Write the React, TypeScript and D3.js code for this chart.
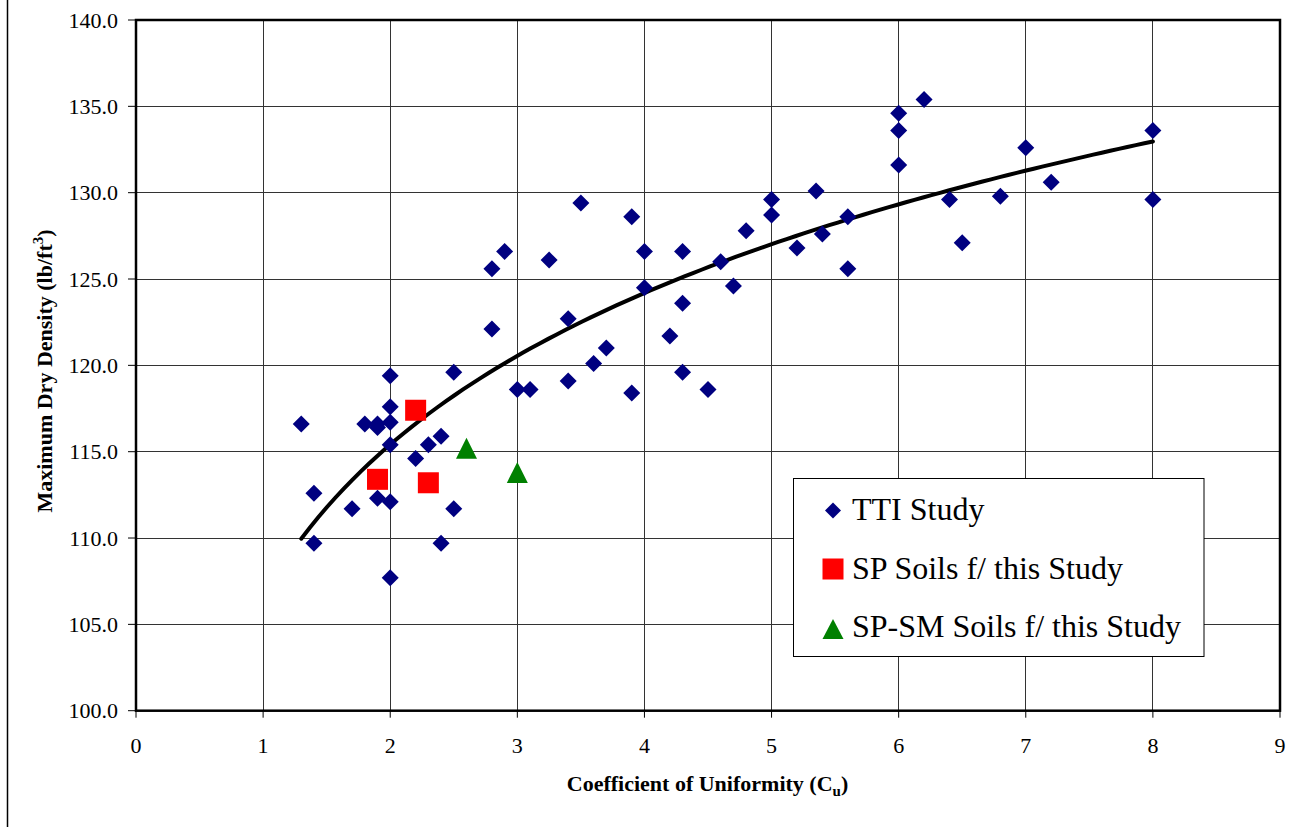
import React from "react";
import * as d3 from "d3";

const ttiCu = [1.3, 1.4, 1.4, 1.7, 1.8, 1.9, 1.9, 1.9, 2.0, 2.0, 2.0, 2.0, 2.0, 2.0, 2.2, 2.3, 2.4, 2.4, 2.5, 2.5, 2.8, 2.8, 2.9, 3.0, 3.1, 3.25, 3.4, 3.4, 3.5, 3.6, 3.7, 3.9, 3.9, 4.0, 4.0, 4.2, 4.3, 4.3, 4.3, 4.5, 4.6, 4.7, 4.8, 5.0, 5.0, 5.2, 5.35, 5.4, 5.6, 5.6, 6.0, 6.0, 6.0, 6.2, 6.4, 6.5, 6.8, 7.0, 7.2, 8.0, 8.0];
const ttiDensity = [116.6, 112.6, 109.7, 111.7, 116.6, 116.6, 116.4, 112.3, 119.4, 117.6, 116.7, 115.4, 112.1, 107.7, 114.6, 115.4, 115.9, 109.7, 111.7, 119.6, 122.1, 125.6, 126.6, 118.6, 118.6, 126.1, 122.7, 119.1, 129.4, 120.1, 121.0, 128.6, 118.4, 126.6, 124.5, 121.7, 126.6, 123.6, 119.6, 118.6, 126.0, 124.6, 127.8, 129.6, 128.7, 126.8, 130.1, 127.6, 128.6, 125.6, 134.6, 133.6, 131.6, 135.4, 129.6, 127.1, 129.8, 132.6, 130.6, 133.6, 129.6];

const spCu = [2.2, 1.9, 2.3];
const spDensity = [117.4, 113.4, 113.2];

const spsmCu = [2.6, 3.0];
const spsmDensity = [115.2, 113.8];

const xTicks = [0, 1, 2, 3, 4, 5, 6, 7, 8, 9];
const yTicks = [100, 105, 110, 115, 120, 125, 130, 135, 140];

const legendLabels = ["TTI Study", "SP Soils f/ this Study", "SP-SM Soils f/ this Study"];

const W = 1298;
const H = 827;
const left = 136;
const right = 1280;
const top = 20;
const bottom = 710.7;

const FONT = "'Liberation Serif', 'Times New Roman', serif";

export default function App() {
  const x = d3.scaleLinear().domain([0, 9]).range([left, right]);
  const y = d3.scaleLinear().domain([100, 140]).range([bottom, top]);

  // logarithmic least-squares trendline fitted to the TTI data
  const lx = ttiCu.map((v) => Math.log(v));
  const mx = d3.mean(lx) as number;
  const my = d3.mean(ttiDensity) as number;
  let sxy = 0;
  let sxx = 0;
  lx.forEach((v, i) => {
    sxy += (v - mx) * (ttiDensity[i] - my);
    sxx += (v - mx) * (v - mx);
  });
  const slope = sxy / sxx;
  const intercept = my - slope * mx;
  const xMin = d3.min(ttiCu) as number;
  const xMax = d3.max(ttiCu) as number;
  const trendPts = d3.range(0, 101).map((i) => {
    const cu = xMin + ((xMax - xMin) * i) / 100;
    return [cu, intercept + slope * Math.log(cu)] as [number, number];
  });
  const line = d3
    .line<[number, number]>()
    .x((d) => x(d[0]))
    .y((d) => y(d[1]))
    .curve(d3.curveLinear);

  const diamond = (cx: number, cy: number, r: number) =>
    `M${cx},${cy - r}L${cx + r},${cy}L${cx},${cy + r}L${cx - r},${cy}Z`;
  const tri = (cx: number, cy: number, w: number, h: number) =>
    `M${cx},${cy - h / 2}L${cx + w / 2},${cy + h / 2}L${cx - w / 2},${cy + h / 2}Z`;

  const legX = 793.5;
  const legY = 478.5;
  const legW = 410.5;
  const legH = 178;
  const rowBase = [520, 578.5, 637];
  const rowMark = [510.5, 569, 629];

  return (
    <svg
      width={W}
      height={H}
      style={{ position: "absolute", left: 0, top: 0, background: "#fff" }}
      fontFamily={FONT}
    >
      <rect x={0} y={0} width={W} height={H} fill="#fff" />
      <line x1={7.5} x2={7.5} y1={0} y2={H} stroke="#000" strokeWidth={1.5} />

      {/* gridlines */}
      {yTicks.map((t) => (
        <line key={"gy" + t} x1={left} x2={right} y1={y(t)} y2={y(t)} stroke="#333" strokeWidth={1} shapeRendering="crispEdges" />
      ))}
      {xTicks.map((t) => (
        <line key={"gx" + t} x1={x(t)} x2={x(t)} y1={top} y2={bottom} stroke="#333" strokeWidth={1} shapeRendering="crispEdges" />
      ))}

      {/* plot frame */}
      <rect x={left} y={top} width={right - left} height={bottom - top} fill="none" stroke="#000" strokeWidth={2.5} />

      {/* y ticks */}
      {yTicks.map((t) => (
        <g key={"yt" + t}>
          <line x1={left - 8} x2={left} y1={y(t)} y2={y(t)} stroke="#000" strokeWidth={1} />
          <text x={118} y={y(t) + 7.5} textAnchor="end" fontSize={22} fill="#000">
            {t.toFixed(1)}
          </text>
        </g>
      ))}
      {/* x ticks */}
      {xTicks.map((t) => (
        <g key={"xt" + t}>
          <line x1={x(t)} x2={x(t)} y1={bottom} y2={bottom + 7} stroke="#000" strokeWidth={1} />
          <text x={x(t)} y={752.5} textAnchor="middle" fontSize={22} fill="#000">
            {t}
          </text>
        </g>
      ))}

      {/* axis titles */}
      <text x={707.5} y={791} textAnchor="middle" fontSize={22} fontWeight="bold" fill="#000">
        Coefficient of Uniformity (C<tspan fontSize={15} dy={5}>u</tspan><tspan dy={-5}>)</tspan>
      </text>
      <text
        transform={`translate(52,371) rotate(-90)`}
        textAnchor="middle"
        fontSize={22}
        fontWeight="bold"
        fill="#000"
      >
        Maximum Dry Density (lb/ft<tspan fontSize={15} dy={-9}>3</tspan><tspan dy={9}>)</tspan>
      </text>

      {/* trendline */}
      <path d={line(trendPts) || ""} fill="none" stroke="#000" strokeWidth={4} strokeLinecap="round" />

      {/* TTI diamonds */}
      {ttiCu.map((c, i) => (
        <path key={"tti" + i} d={diamond(x(c), y(ttiDensity[i]), 8.5)} fill="#000080" />
      ))}
      {/* SP squares */}
      {spCu.map((c, i) => (
        <rect key={"sp" + i} x={x(c) - 10.5} y={y(spDensity[i]) - 10.5} width={21} height={21} fill="#ff0000" />
      ))}
      {/* SP-SM triangles */}
      {spsmCu.map((c, i) => (
        <path key={"sm" + i} d={tri(x(c), y(spsmDensity[i]), 21, 21)} fill="#008000" />
      ))}

      {/* legend */}
      <rect x={legX} y={legY} width={legW} height={legH} fill="#fff" stroke="#000" strokeWidth={1} />
      <path d={diamond(833, rowMark[0], 8)} fill="#000080" />
      <rect x={822.5} y={rowMark[1] - 10.5} width={21} height={21} fill="#ff0000" />
      <path d={tri(833, rowMark[2], 21, 20)} fill="#008000" />
      {legendLabels.map((l, i) => (
        <text key={l} x={852} y={rowBase[i]} fontSize={32} fill="#000">
          {l}
        </text>
      ))}
    </svg>
  );
}
